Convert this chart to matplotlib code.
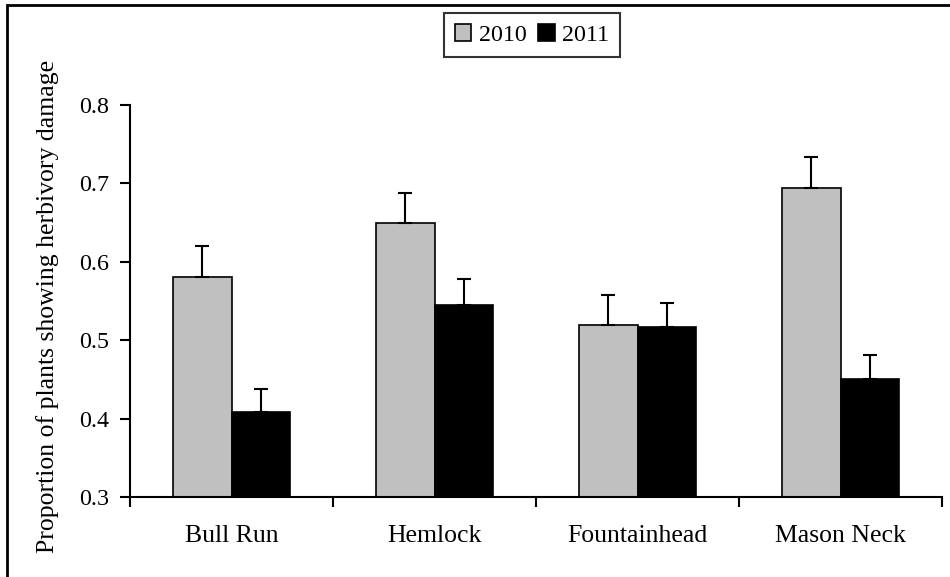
import matplotlib
matplotlib.use('Agg')
import matplotlib.pyplot as plt
from matplotlib.patches import Rectangle

# Data
sites = ['Bull Run', 'Hemlock', 'Fountainhead', 'Mason Neck']
years = ['2010', '2011']
vals_2010 = [0.581, 0.650, 0.519, 0.694]
vals_2011 = [0.408, 0.545, 0.517, 0.451]
err_2010 = [0.039, 0.038, 0.039, 0.040]
err_2011 = [0.030, 0.033, 0.031, 0.030]
yticks = [0.3, 0.4, 0.5, 0.6, 0.7, 0.8]

plt.rcParams['font.family'] = ['Liberation Serif', 'DejaVu Serif']
plt.rcParams['font.size'] = 17.3

fig = plt.figure(figsize=(9.5, 5.77), dpi=100)
ax = fig.add_axes([130 / 950, 1 - 497 / 577, 812 / 950, 392 / 577])

x = list(range(len(sites)))
w = 0.29
x1 = [i - w / 2 for i in x]
x2 = [i + w / 2 for i in x]

ax.bar(x1, vals_2010, width=w, color='#c0c0c0', edgecolor='black', linewidth=1.2,
       label=years[0], zorder=2)
ax.bar(x2, vals_2011, width=w, color='black', edgecolor='black', linewidth=1.2,
       label=years[1], zorder=2)

# upward error bars only
ax.errorbar(x1, vals_2010, yerr=[[0] * 4, err_2010], fmt='none', ecolor='black',
            elinewidth=1.5, capsize=5, capthick=1.5, zorder=3)
ax.errorbar(x2, vals_2011, yerr=[[0] * 4, err_2011], fmt='none', ecolor='black',
            elinewidth=1.5, capsize=5, capthick=1.5, zorder=3)

ax.set_xlim(-0.5, len(sites) - 0.5)
ax.set_ylim(0.3, 0.8)
ax.set_yticks(yticks)
ax.set_yticklabels([f'{t:.1f}' for t in yticks])

ax.set_xticks([i - 0.5 for i in range(len(sites) + 1)])
ax.set_xticklabels([])
ax.set_xticks(x, minor=True)
ax.set_xticklabels(sites, minor=True, fontsize=18.5)
ax.tick_params(axis='x', which='major', direction='out', length=7, width=1.5)
ax.tick_params(axis='x', which='minor', length=0, pad=20)
ax.tick_params(axis='y', direction='out', length=7, width=1.5, pad=8)

for s in ['top', 'right']:
    ax.spines[s].set_visible(False)
for s in ['left', 'bottom']:
    ax.spines[s].set_linewidth(1.5)

ax.set_ylabel('Proportion of plants showing herbivory damage', fontsize=18.5)
ax.yaxis.set_label_coords(-0.088, 0.486)

leg = fig.legend(loc='center', bbox_to_anchor=(532 / 950, 1 - 35 / 577), ncol=2,
                 frameon=True, fancybox=False, edgecolor='black',
                 handlelength=0.7, handleheight=0.7, handletextpad=0.3,
                 columnspacing=0.5, borderpad=0.45)
leg.get_frame().set_linewidth(1.5)

# outer chart border (right/bottom run off the image)
fig.patches.append(Rectangle((7 / 950, -0.1), 1.2, 1.1 - 5 / 577,
                             transform=fig.transFigure, fill=False,
                             edgecolor='black', linewidth=2))

fig.savefig('out.png', dpi=100)
